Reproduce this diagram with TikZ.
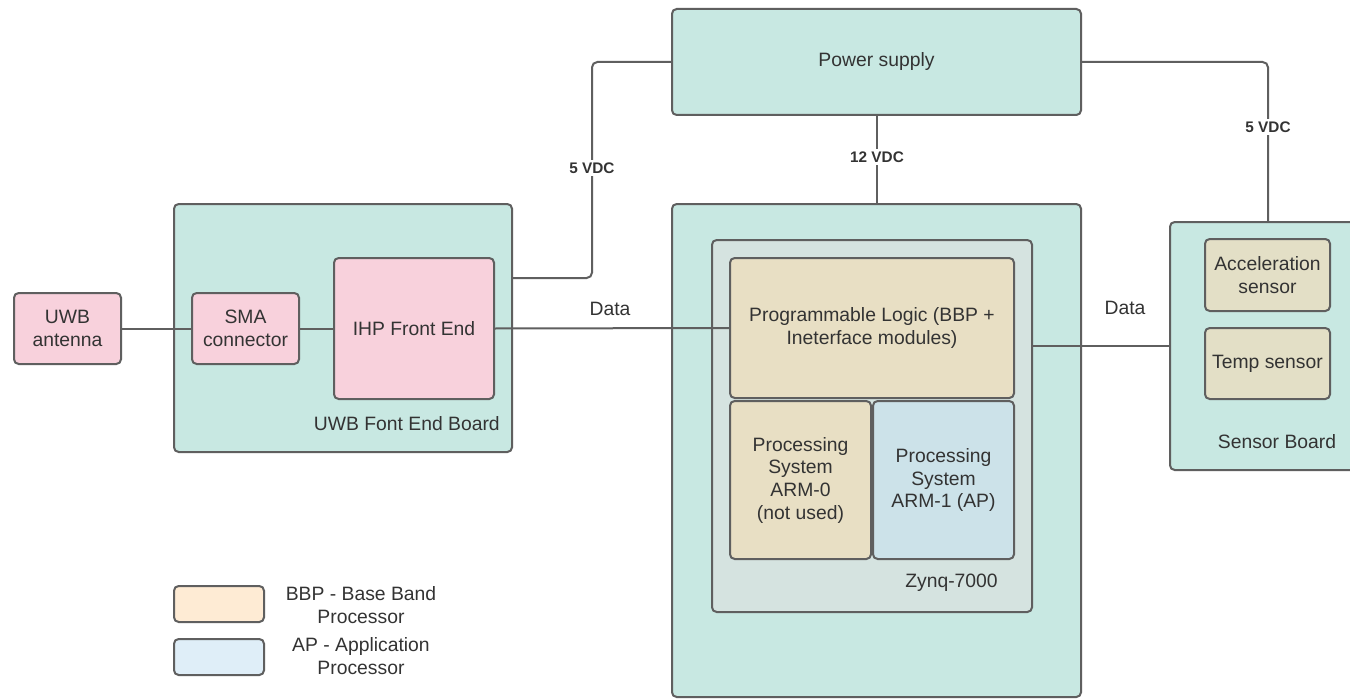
\documentclass[tikz,border=0pt]{standalone}
\usepackage{fontspec}
\setmainfont{Liberation Sans}
\usetikzlibrary{calc}

\definecolor{boardfill}{HTML}{C8E8E2}
\definecolor{pinkfill}{HTML}{F8D1DC}
\definecolor{zynqfill}{HTML}{D5E3E0}
\definecolor{tanfill}{HTML}{E8DFC4}
\definecolor{apfill}{HTML}{CCE2E9}
\definecolor{sensfill}{HTML}{E3DFC6}
\definecolor{bbpkey}{HTML}{FEEBD4}
\definecolor{apkey}{HTML}{DFEEF8}
\definecolor{edge}{HTML}{5F5F5F}
\definecolor{ink}{HTML}{333333}

\tikzset{
  sz/.style 2 args={minimum width=#1*0.75pt, minimum height=#2*0.75pt},
  blk/.style={draw=edge, line width=1.5pt, rounded corners=3.5pt, inner sep=0pt,
              text=ink, align=center, font=\fontsize{14.5}{17}\selectfont},
  board/.style={blk, fill=boardfill},
  pinkbox/.style={blk, fill=pinkfill},
  tanbox/.style={blk, fill=tanfill},
  txt/.style={text=ink, align=center, inner sep=0pt, font=\fontsize{14.5}{17}\selectfont},
  volt/.style={text=ink, fill=white, inner sep=2pt, font=\fontsize{11.5}{13}\bfseries\selectfont},
  wire/.style={draw=edge, line width=1.5pt},
}

\begin{document}
\begin{tikzpicture}[x=0.75pt, y=-0.75pt]
\clip (0,0) rectangle (1350,699);
\fill[white] (0,0) rectangle (1350,699);

% boards
\node[board, sz={409}{106}] (ps) at (876.5,62) {Power supply};
\node[board, sz={338}{248}] (uwb) at (343,328) {};
\node[board, sz={409}{493}] (main) at (876.5,450.5) {};
\node[board, sz={196}{248}] (sens) at (1268,346) {};

% RF front end
\node[pinkbox, sz={107}{71}] (ant) at (67.5,328.5) {UWB\\antenna};
\node[pinkbox, sz={107}{71}] (sma) at (245.5,328.5) {SMA\\connector};
\node[pinkbox, sz={160}{141}] (ihp) at (414,328.5) {IHP Front End};
\node[txt, anchor=east] (uwblbl) at (500,424) {UWB Font End Board};

% Zynq SoC
\node[blk, fill=zynqfill, sz={320}{372}] (zynq) at (872,426) {};
\node[tanbox, sz={284}{140}] (pl) at (872,328) {Programmable Logic (BBP +\\Ineterface modules)};
\node[tanbox, sz={141}{158}] (arm0) at (800.5,480) {Processing\\System\\ARM-0\\(not used)};
\node[blk, fill=apfill, sz={141}{158}] (arm1) at (943.5,480) {Processing\\System\\ARM-1 (AP)};
\node[txt, anchor=east] (zlbl) at (998,583) {Zynq-7000};

% sensors
\node[blk, fill=sensfill, sz={125}{72}] (acc) at (1267.5,275) {Acceleration\\sensor};
\node[blk, fill=sensfill, sz={125}{71}] (temp) at (1267.5,363.5) {Temp sensor};
\node[txt] (slbl) at (1277,442) {Sensor Board};

% signal connections
\draw[wire] (ant.east) -- (sma.west);
\draw[wire] (sma.east) -- (ihp.west);
\draw[wire] (ihp.east) -- (pl.west);
\node[txt] (dl) at (610,309) {Data};
\coordinate (dr) at (0,346);
\draw[wire] (zynq.east |- dr) -- (sens.west);
\node[txt] (drl) at (1125,308) {Data};

% power distribution
\coordinate (lv) at (592,278);
\draw[wire, rounded corners=4pt] (ps.west) -| (lv) -- (uwb.east |- lv);
\node[volt] (v5a) at (592,168) {5 VDC};
\draw[wire] (ps.south) -- (main.north);
\node[volt] (v12) at (877,157) {12 VDC};
\draw[wire, rounded corners=4pt] (ps.east) -| (sens.north);
\node[volt] (v5b) at (1268,127) {5 VDC};

% legend
\node[blk, fill=bbpkey, sz={90}{36}] (kbbp) at (219,604) {};
\node[blk, fill=apkey, sz={90}{36}] (kap) at (219,657) {};
\node[txt] (tbbp) at (361,605) {BBP - Base Band\\Processor};
\node[txt] (tap) at (361,656) {AP - Application\\Processor};
\end{tikzpicture}
\end{document}
